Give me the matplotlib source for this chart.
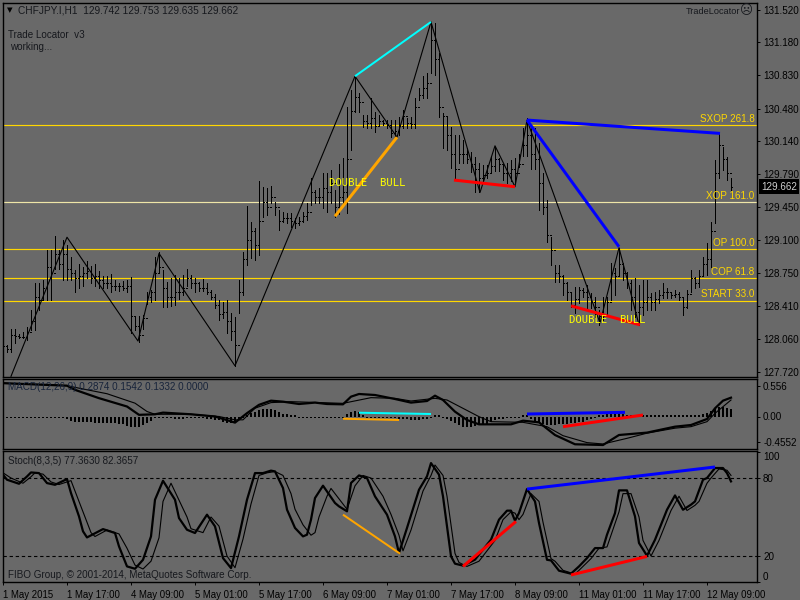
import matplotlib
matplotlib.use("Agg")
import matplotlib.pyplot as plt

BG = '#696969'
INK = '#000000'
TXT = '#16181d'
GOLD = '#ffd700'
plt.rcParams['font.family'] = ['Liberation Sans', 'DejaVu Sans']
plt.rcParams['font.size'] = 6.7

highs = [128.01,128.0,128.17,128.17,128.11,128.13,128.19,128.37,128.65,128.65,128.68,129.0,129.0,129.14,129.0,129.1,129.05,128.92,128.79,128.85,
128.82,128.88,128.83,128.85,128.78,128.72,128.72,128.74,128.68,128.65,128.67,128.68,128.71,128.3,128.3,128.31,128.55,128.58,128.92,128.98,
128.79,128.66,128.7,128.73,128.7,128.73,128.8,128.73,128.7,128.66,128.69,128.65,128.58,128.53,128.47,128.45,128.47,128.33,128.29,128.68,
128.97,129.46,129.29,129.23,129.72,129.66,129.65,129.67,129.5,129.42,129.4,129.38,129.38,129.33,129.34,129.4,129.49,129.75,129.63,129.65,
129.8,129.8,129.84,129.63,129.9,129.96,130.5,130.68,130.82,130.64,130.41,130.41,130.59,130.44,130.41,130.36,130.36,130.36,130.36,130.39,
130.47,130.38,130.39,130.59,130.7,130.82,130.85,131.39,131.38,131.06,130.43,130.39,130.29,130.2,130.2,130.15,130.07,130.02,129.97,129.91,
129.89,129.89,129.98,130.08,129.96,129.89,129.91,129.94,129.96,130.0,130.28,130.38,130.28,130.28,130.12,129.8,129.52,129.13,128.84,128.84,
128.73,128.66,128.55,128.61,128.61,128.6,128.63,128.54,128.5,128.37,128.5,128.5,128.86,128.81,129.02,128.86,128.76,128.68,128.7,128.63,
128.68,128.68,128.54,128.55,128.58,128.65,128.6,128.55,128.58,128.55,128.5,128.58,128.79,128.71,128.79,128.92,129.07,129.29,129.94,130.23,
130.08,129.97,129.75]
lows = [127.91,127.92,127.92,128.02,128.07,128.07,128.05,128.16,128.16,128.37,128.47,128.47,128.47,128.8,128.8,128.68,128.68,128.68,128.55,128.6,
128.62,128.7,128.65,128.62,128.6,128.6,128.6,128.55,128.58,128.57,128.58,128.55,128.12,128.16,128.03,128.17,128.43,128.45,128.47,128.75,
128.4,128.4,128.41,128.42,128.48,128.52,128.62,128.6,128.56,128.57,128.57,128.53,128.48,128.39,128.26,128.28,128.12,128.05,127.78,128.33,
128.52,128.84,128.91,128.89,128.94,129.34,129.36,129.49,129.36,129.21,129.29,129.28,129.24,129.23,129.26,129.29,129.31,129.47,129.49,129.49,
129.44,129.39,129.49,129.34,129.37,129.47,129.38,130.05,130.44,130.44,130.29,130.28,130.28,130.23,130.31,130.31,130.28,130.18,130.18,130.2,
130.28,130.28,130.28,130.28,130.57,130.59,130.59,130.85,130.83,130.39,130.07,130.05,129.86,129.73,129.91,129.91,129.91,129.81,129.6,129.6,
129.73,129.75,129.8,129.83,129.83,129.73,129.7,129.72,129.7,129.87,129.98,129.98,129.85,129.85,129.42,129.37,129.08,128.84,128.66,128.66,
128.52,128.47,128.4,128.33,128.44,128.5,128.39,128.39,128.29,128.21,128.26,128.31,128.47,128.52,128.73,128.68,128.6,128.37,128.29,128.21,
128.31,128.37,128.37,128.37,128.44,128.49,128.49,128.49,128.5,128.47,128.31,128.39,128.55,128.6,128.61,128.73,128.73,128.82,129.28,129.75,
129.84,129.73,129.63]
closes = [127.99,127.96,128.1,128.09,128.08,128.08,128.14,128.25,128.5,128.47,128.6,128.82,128.75,128.95,128.85,128.95,128.8,128.75,128.7,128.72,
128.75,128.78,128.7,128.72,128.68,128.65,128.65,128.62,128.62,128.62,128.6,128.62,128.3,128.2,128.1,128.28,128.5,128.55,128.75,128.82,
128.6,128.5,128.5,128.55,128.55,128.6,128.7,128.65,128.65,128.6,128.6,128.55,128.5,128.42,128.32,128.35,128.25,128.15,128.0,128.55,
128.9,129.1,129.2,129.05,129.3,129.5,129.45,129.55,129.45,129.3,129.33,129.33,129.3,129.28,129.3,129.35,129.4,129.6,129.55,129.55,
129.65,129.6,129.7,129.45,129.55,129.6,129.95,130.45,130.6,130.55,130.35,130.33,130.38,130.3,130.35,130.33,130.31,130.22,130.25,130.3,
130.4,130.33,130.32,130.5,130.62,130.7,130.75,131.2,131.0,130.5,130.4,130.2,130.0,129.85,130.0,130.0,129.95,129.9,129.85,129.75,
129.78,129.8,129.88,129.95,129.9,129.8,129.8,129.85,129.8,129.9,130.1,130.2,130.0,129.95,129.7,129.45,129.15,129.0,128.75,128.72,
128.65,128.55,128.42,128.48,128.58,128.55,128.5,128.45,128.4,128.3,128.3,128.45,128.75,128.72,128.85,128.75,128.65,128.5,128.35,128.4,
128.45,128.5,128.45,128.48,128.52,128.55,128.55,128.52,128.53,128.5,128.4,128.53,128.7,128.65,128.72,128.85,128.9,129.2,129.8,130.1,
129.95,129.8,129.66]

zigzag_idx = [2,16,33.75,39,58,88,98.5,107,119.25,123,128,131,149.25,154,159]
zigzag_px = [127.67,129.13,128.04,128.96,127.78,130.82,130.18,131.39,129.6,130.09,129.66,130.36,128.23,129.02,128.21]

level_names = ['SXOP 261.8','XOP 161.0','OP 100.0','COP 61.8','START 33.0']
level_prices = [130.31,129.50,129.01,128.70,128.465]
level_colors = [GOLD,'#efe6a8',GOLD,GOLD,GOLD]

price_ticks = [131.52,131.18,130.83,130.48,130.14,129.79,129.45,129.10,128.75,128.41,128.06,127.72]
date_labels = ['1 May 2015','1 May 17:00','4 May 09:00','5 May 01:00','5 May 17:00','6 May 09:00','7 May 01:00','7 May 17:00','8 May 09:00','11 May 01:00','11 May 17:00','12 May 09:00']
date_idx = [0,16,32,48,64,80,96,112,128,144,160,176]

# pattern legs: (x0, y0, x1, y1, colour, width in pixels)
price_legs = [(88,130.82,107,131.39,'#00ffff',2),(83,129.35,98.5,130.18,'#ffa500',3),
              (112.75,129.73,128,129.66,'#ff0000',3),(131,130.36,179.25,130.22,'#0000ff',3),
              (131,130.36,154,129.03,'#0000ff',3),(142,128.41,159.25,128.21,'#ff0000',3)]
macd_legs = [(89,0.068,107,0.045,'#00ffff',2),(85,-0.04,99,-0.063,'#ffa500',2),
             (131,0.045,155.5,0.075,'#0000ff',3),(140,-0.183,160,0.027,'#ff0000',3)]
stoch_legs = [(85,51.8,99.25,21.8,'#ffa500',2),(115,12,128.25,46.6,'#ff0000',3),
              (131,71.5,178,88.5,'#0000ff',3),(142,5.4,161,19.7,'#ff0000',3)]

hist = [-.02,-.02,-.02,-.02,-.02,-.02,-.02,-.03,-.03,-.03,-.03,-.03,-.02,-.02,-.02,-.03,-.05,-.08,-.1,-.1,
-.1,-.1,-.1,-.11,-.11,-.11,-.11,-.12,-.12,-.13,-.14,-.17,-.19,-.19,-.18,-.15,-.12,-.08,-.03,-.02,
-.02,-.02,-.03,-.04,-.04,-.04,-.03,-.03,-.03,-.03,-.03,-.04,-.05,-.06,-.07,-.09,-.11,-.11,-.09,-.06,
-.03,.03,.07,.09,.11,.13,.13,.13,.11,.09,.05,.05,.03,.03,-.02,-.03,-.03,-.03,-.03,-.03,
-.03,-.03,-.03,-.03,-.03,-.02,.05,.08,.1,.08,.03,-.02,-.02,-.02,-.02,-.02,-.03,-.03,-.03,-.04,
-.05,-.05,-.06,-.06,-.06,-.05,-.04,-.02,.03,.03,-.02,-.04,-.08,-.12,-.16,-.18,-.18,-.18,-.17,-.15,
-.14,-.13,-.1,-.07,-.05,-.04,-.03,-.03,-.02,-.02,.02,.02,-.05,-.08,-.11,-.13,-.15,-.15,-.15,-.14,
-.14,-.13,-.12,-.12,-.1,-.09,-.07,-.05,-.03,.02,.03,.04,.06,.07,.06,.04,.03,.02,.02,.02,
.02,.02,.02,.02,.02,.02,.02,.02,.02,.02,.02,.02,.03,.03,.03,.04,.06,.1,.16,.18,.17,.15,.14][:183]

macd_main_idx = [0,16,18,24,31,34,38,40,47,53,58,61,64,67,70,74,78,81,85,87,89,93,98,102,106,108,110,113,116,119,127,130,134,138,143,150,154,161,168,172,176,178,180,182]
macd_main = [.6,.555,.48,.33,.18,.03,.04,.07,.04,0,-.11,.06,.21,.285,.267,.225,.25,.225,.219,.357,.405,.387,.315,.25,.279,.375,.297,.087,-.063,-.141,-.141,-.075,-.105,-.333,-.5,-.513,-.333,-.29,-.183,-.153,-.045,.147,.285,.339]
macd_sig_idx = [0,16,19,26,33,36,38,47,54,58,60,63,67,72,85,92,98,102,108,111,119,122,130,136,140,146,150,156,161,168,172,176,178,181,182]
macd_sig = [.6,.555,.51,.41,.24,.09,.04,.04,0,-.06,-.06,.15,.25,.267,.237,.339,.327,.279,.327,.297,-.003,-.093,-.105,-.183,-.345,-.47,-.495,-.393,-.3,-.21,-.183,-.093,.057,.237,.297]

k_idx = [0,1,4,6,7,9,11,13,16,17,19,20,21,25,28,29,31,33,35,37,38,40,43,44,46,48,51,53,55,57,59,61,63,65,
67,68,70,71,73,75,76,77,78,80,83,84,86,87,89,91,93,96,98,99,101,104,106,107,109,110,112,113,115,118,122,124,126,127,128,129,131,
133,134,136,137,139,142,144,146,148,150,151,153,154,156,158,159,161,163,166,168,170,172,173,175,176,178,180,181,182]
k_val = [82.5,78.7,75.6,81.2,84.3,83.8,76.1,74.8,79.2,68.4,50.5,39,34.3,40.7,37.7,27.4,12,10.2,17.1,35.1,63.3,77.9,63.3,49.2,40.2,37.7,51.8,42.8,18.4,10.7,35.1,63.3,83.8,83.8,
85.7,85.1,72.3,55.7,41.6,35.1,36.4,48,64.6,74.1,60.8,58.2,54.4,76.2,82,80,65.9,51.8,35.1,22.3,41.6,71,81.3,91.5,82.6,65.9,19.8,14.1,12.6,17.2,32.6,48,54.9,54.9,47.2,53.1,71.5,
62,45.4,17.1,16.6,8.7,6.4,12,18.4,26.1,26.1,36.4,53,70.5,70.5,50.5,30,20.2,32.5,55.6,66.6,55.6,59.5,62,78.7,80,87.7,87.7,83.8,77.4]
d_idx = [0,2,5,7,8,10,12,14,17,18,20,22,23,26,29,31,33,35,37,39,40,42,44,46,47,50,52,54,56,58,60,62,64,66,
68,70,72,73,75,77,78,79,81,82,85,86,88,90,92,95,97,99,100,102,105,107,108,110,111,113,114,116,119,123,125,127,128,129,130,132,
134,135,137,138,140,143,145,147,149,151,152,154,155,157,159,160,162,164,167,169,171,173,174,176,177,179,181,182]
d_val = [84,80,76,81,84,83,77,75,78,70,54,38,35,40,37,26,13,10,16,34,62,76,63,50,41,38,50,43,20,11,33,60,82,84,
85,82,68,56,44,36,38,50,66,72,60,56,74,82,80,66,52,36,24,40,70,82,90,82,66,22,15,12,16,32,48,54,53,48,52,68,
62,46,18,16,9,6,12,18,26,27,36,54,68,68,50,32,20,32,55,66,55,59,62,76,80,87,86,82]

fig = plt.figure(figsize=(8, 6), dpi=100, facecolor=BG)
def panel(top, bottom):
    ax = fig.add_axes([2.5/800, 1-bottom/600, (757-2.5)/800, (bottom-top)/600], facecolor=BG)
    ax.set_xlim(-0.125, 188.5)
    for s in ax.spines.values():
        s.set_linewidth(1.0); s.set_color(INK)
    ax.yaxis.tick_right()
    ax.tick_params(axis='y', length=2.2, width=0.7, pad=2.2, colors=INK, labelsize=7.1)
    ax.set_xticks([])
    return ax

ax = panel(2.5, 376.5)
ax.set_ylim(127.668, 131.594)
ax.set_yticks(price_ticks, [f'{p:.3f}' for p in price_ticks])
for p, c in zip(level_prices, level_colors):
    ax.axhline(p, color=c, lw=0.85, zorder=1)
for n, p in zip(level_names, level_prices):
    ax.text(187.9, p + 0.012, n, color=GOLD, ha='right', va='bottom', fontsize=7.1)
x = list(range(len(highs)))
ax.vlines(x, lows, highs, color=INK, lw=0.7, zorder=2, antialiased=False)
ax.hlines(closes, x, [i + 0.3 for i in x], color=INK, lw=0.7, zorder=2, antialiased=False)
ax.hlines(closes[:-1], [i + 0.7 for i in x[:-1]], [i + 1 for i in x[:-1]], color=INK, lw=0.7, zorder=2, antialiased=False)
ax.plot(zigzag_idx, zigzag_px, color=INK, lw=0.8, zorder=3)
for a, b, c, d, col, w in price_legs:
    ax.plot([a, c], [b, d], color=col, lw=w * 0.72, zorder=4, solid_capstyle='butt')
for tx, ty in [(81.5, 129.70), (141.5, 128.26)]:
    ax.text(tx, ty, 'DOUBLE  BULL', color='#ffff00', family='DejaVu Sans Mono', fontsize=7.6, va='center', ha='left', zorder=5)
ax.text(1.005, 129.662, '129.662', transform=ax.get_yaxis_transform(), color='#d0d0d0', fontsize=7.1, va='center', ha='left',
        bbox=dict(facecolor='black', edgecolor='none', pad=1.6), zorder=6, clip_on=False)

ax2 = panel(379, 449)
ax2.set_ylim(-0.585, 0.675)
ax2.set_yticks([0.556, 0.0, -0.4552], ['0.556', '0.00', '-0.4552'])
ax2.bar(range(len(hist)), hist, width=0.72, color=INK, zorder=2)
ax2.plot(macd_sig_idx, macd_sig, color=INK, lw=0.8, zorder=3)
ax2.plot(macd_main_idx, macd_main, color=INK, lw=1.6, zorder=3)
for a, b, c, d, col, w in macd_legs:
    ax2.plot([a, c], [b, d], color=col, lw=w * 0.72, zorder=4, solid_capstyle='butt')

ax3 = panel(451, 582)
ax3.set_ylim(0, 100.8)
ax3.set_yticks([100, 80, 20, 0], ['100', '80', '20', '0'])
labels = ax3.get_yticklabels()
labels[0].set_va('top'); labels[3].set_va('bottom')
ax3.axhline(80, color=INK, lw=0.8, ls=(0, (3, 2.5)), zorder=1)
ax3.axhline(20, color=INK, lw=0.8, ls=(0, (3, 2.5)), zorder=1)
ax3.plot(d_idx, d_val, color=INK, lw=0.8, zorder=3)
ax3.plot(k_idx, k_val, color=INK, lw=1.6, zorder=3)
for a, b, c, d, col, w in stoch_legs:
    ax3.plot([a, c], [b, d], color=col, lw=w * 0.72, zorder=4, solid_capstyle='butt')
ax3.set_xticks(date_idx, date_labels, ha='left')
ax3.tick_params(axis='x', length=2.4, width=0.7, pad=3.6, colors=INK, labelsize=6.9)

def px_text(px, py, s, **kw):
    kw.setdefault('color', TXT)
    kw.setdefault('fontsize', 7.1)
    fig.text(px/800, 1-py/600, s, va='center', ha=kw.pop('ha', 'left'), **kw)

px_text(18, 10.5, 'CHFJPY.I,H1  129.742 129.753 129.635 129.662', fontsize=7.3)
fig.text(9.5/800, 1-10.5/600, '\u25BC', color=INK, fontsize=5.2, va='center', ha='center', family='DejaVu Sans')
px_text(7.5, 35.5, 'Trade Locator  v3')
px_text(10.5, 47.5, 'working...')
px_text(686, 11.5, 'TradeLocator', fontsize=6.6)
fig.text(746.5/800, 1-11/600, '\u2639', color=TXT, fontsize=9, va='center', ha='center', family='DejaVu Sans')
px_text(7.5, 387.5, 'MACD(12,26,9) 0.2874 0.1542 0.1332 0.0000', color='#17233a')
px_text(7.5, 460.5, 'Stoch(8,3,5) 77.3630 82.3657')
px_text(7.5, 575, 'FIBO Group, \u00a9 2001-2014, MetaQuotes Software Corp.')

fig.savefig('out.png', dpi=100, facecolor=BG)
